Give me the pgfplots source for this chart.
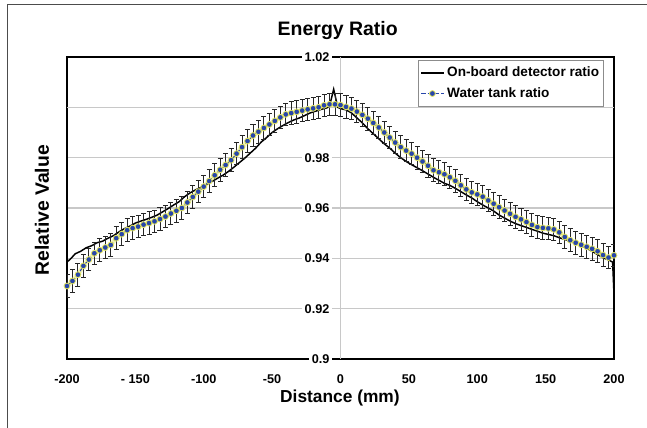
\documentclass[border=0pt]{standalone}
\usepackage{fontspec}
\setmainfont{Liberation Sans}
\usepackage{pgfplots}
\usepackage{pgfplotstable}
\pgfplotsset{compat=1.18}
\definecolor{dotblue}{RGB}{40,70,170}
\definecolor{halo}{RGB}{228,230,95}
\definecolor{gridgray}{RGB}{200,200,200}

\pgfplotstableread{
x y
-200 0.9290
-196 0.9310
-192 0.9335
-188 0.9370
-184 0.9395
-180 0.9420
-176 0.9432
-172 0.9443
-168 0.9453
-164 0.9480
-160 0.9496
-156 0.9512
-152 0.9520
-148 0.9526
-144 0.9534
-140 0.9540
-136 0.9547
-132 0.9556
-128 0.9566
-124 0.9578
-120 0.9589
-116 0.9600
-112 0.9622
-108 0.9644
-104 0.9665
-100 0.9685
-96 0.9707
-92 0.9730
-88 0.9752
-84 0.9771
-80 0.9790
-76 0.9816
-72 0.9842
-68 0.9866
-64 0.9888
-60 0.9903
-56 0.9918
-52 0.9932
-48 0.9946
-44 0.9960
-40 0.9972
-36 0.9977
-32 0.9982
-28 0.9987
-24 0.9992
-20 0.9996
-16 1.0000
-12 1.0008
-8 1.0012
-4 1.0012
0 1.0009
4 1.0002
8 0.9995
12 0.9983
16 0.9970
20 0.9955
24 0.9938
28 0.9920
32 0.9900
36 0.9880
40 0.9860
44 0.9842
48 0.9828
52 0.9816
56 0.9800
60 0.9785
64 0.9768
68 0.9750
72 0.9742
76 0.9734
80 0.9722
84 0.9708
88 0.9690
92 0.9674
96 0.9662
100 0.9654
104 0.9645
108 0.9630
112 0.9617
116 0.9603
120 0.9590
124 0.9577
128 0.9565
132 0.9555
136 0.9544
140 0.9533
144 0.9524
148 0.9521
152 0.9519
156 0.9515
160 0.9503
164 0.9485
168 0.9472
172 0.9462
176 0.9454
180 0.9446
184 0.9438
188 0.9428
192 0.9413
196 0.9403
200 0.9412
}\watertank

\pgfplotstableread{
x y
-200 0.9000
-200 0.9385
-197 0.9400
-194 0.9418
-190 0.9428
-186 0.9442
-182 0.9450
-178 0.9462
-174 0.9468
-170 0.9480
-166 0.9490
-162 0.9505
-158 0.9518
-154 0.9528
-150 0.9540
-146 0.9548
-142 0.9555
-138 0.9563
-134 0.9572
-130 0.9585
-126 0.9598
-122 0.9612
-118 0.9625
-114 0.9645
-110 0.9660
-106 0.9672
-102 0.9682
-98 0.9693
-94 0.9705
-90 0.9718
-86 0.9730
-82 0.9745
-78 0.9762
-74 0.9780
-70 0.9798
-66 0.9818
-62 0.9838
-58 0.9862
-54 0.9880
-50 0.9900
-46 0.9915
-42 0.9928
-38 0.9940
-34 0.9950
-30 0.9958
-26 0.9968
-22 0.9978
-18 0.9985
-14 0.9992
-10 0.9998
-8 1.0005
-5 1.0072
-2 1.0000
0 0.9995
4 0.9990
8 0.9978
12 0.9958
16 0.9938
20 0.9915
24 0.9895
28 0.9875
32 0.9855
36 0.9838
40 0.9818
44 0.9800
48 0.9785
52 0.9772
56 0.9760
60 0.9748
64 0.9735
68 0.9722
72 0.9710
76 0.9698
80 0.9690
84 0.9678
88 0.9665
92 0.9652
96 0.9640
100 0.9625
104 0.9612
108 0.9600
112 0.9588
116 0.9572
120 0.9560
124 0.9548
128 0.9538
132 0.9530
136 0.9523
140 0.9515
144 0.9508
148 0.9500
152 0.9495
156 0.9490
160 0.9482
164 0.9475
168 0.9468
172 0.9460
176 0.9450
180 0.9440
184 0.9428
188 0.9415
192 0.9402
196 0.9394
199 0.9385
200 0.9255
}\onboard

\begin{document}
\begin{tikzpicture}
\path[use as bounding box] (0,0) rectangle (485.25pt,321pt);
\draw[black!70, line width=0.75pt] (5.25pt,0) -- (5.25pt,317.25pt) -- (485.25pt,317.25pt);
\begin{axis}[
  at={(50.25pt,51.75pt)}, anchor=south west,
  scale only axis, width=410.25pt, height=226.5pt,
  xmin=-200, xmax=200, ymin=0.9, ymax=1.02,
  axis line style={black, line width=1.3pt},
  xtick={-200,-150,-100,-50,0,50,100,150,200},
  xticklabels={-200,- 150,-100,-50,0,50,100,150,200},
  ytick={0.9,0.92,0.94,0.96,0.98,1.02},
  yticklabels={0.9,0.92,0.94,0.96,0.98,1.02},
  extra y ticks={1.0}, extra y tick labels={},
  extra y tick style={grid=major, yticklabel style={fill=none}},
  major tick length=0pt,
  ymajorgrids,
  major grid style={gridgray, line width=0.8pt},
  tick label style={font=\bfseries\fontsize{9.5}{11}\selectfont},
  /pgf/number format/assume math mode=true,
  yticklabel style={anchor=east, xshift=199pt, fill=white, inner xsep=2pt, inner ysep=1pt},
  xticklabel style={yshift=-8pt},
  title={Energy Ratio},
  title style={font=\bfseries\fontsize{14.6}{17}\selectfont, at={(axis description cs:0.495,1.06)}, anchor=center, yshift=0pt},
  xlabel={Distance (mm)},
  xlabel style={font=\bfseries\fontsize{13}{15}\selectfont, at={(axis description cs:0.499,-0.129)}, anchor=center},
  ylabel={Relative Value},
  ylabel style={font=\bfseries\fontsize{14.5}{17}\selectfont, at={(axis description cs:-0.0457,0.493)}, anchor=center, rotate=0},
  legend style={at={(0.982,0.99)}, anchor=north east, draw=black!45, line width=0.6pt,
    font=\bfseries\fontsize{10.2}{12}\selectfont, inner xsep=1.5pt, inner ysep=3pt, row sep=2.5pt},
  legend cell align=left,
]
\draw[gridgray, line width=0.8pt] (axis cs:0,0.9) -- (axis cs:0,1.02);
\addplot[black, line width=1.1pt] table[x=x,y=y] {\onboard};
\addlegendentry{On-board detector ratio}
\addplot[halo, line width=3.2pt, opacity=0.45, forget plot] table[x=x,y=y] {\watertank};
\addplot[draw=none, mark=none, forget plot,
  error bars/.cd, y dir=both, y fixed=0.0045, error mark=-,
  error bar style={draw=black!85, solid, line width=0.7pt},
  error mark options={rotate=90, draw=black!85, solid, line width=0.7pt, mark size=1.9pt}]
  table[x=x,y=y] {\watertank};
\addplot[dotblue, dash pattern=on 3.5pt off 1.5pt, line width=0.8pt, mark=*, mark size=2.2pt,
  mark options={solid, fill=dotblue, draw=halo, line width=0.6pt}]
  table[x=x,y=y] {\watertank};
\addlegendentry{Water tank ratio}
\end{axis}
\end{tikzpicture}
\end{document}
